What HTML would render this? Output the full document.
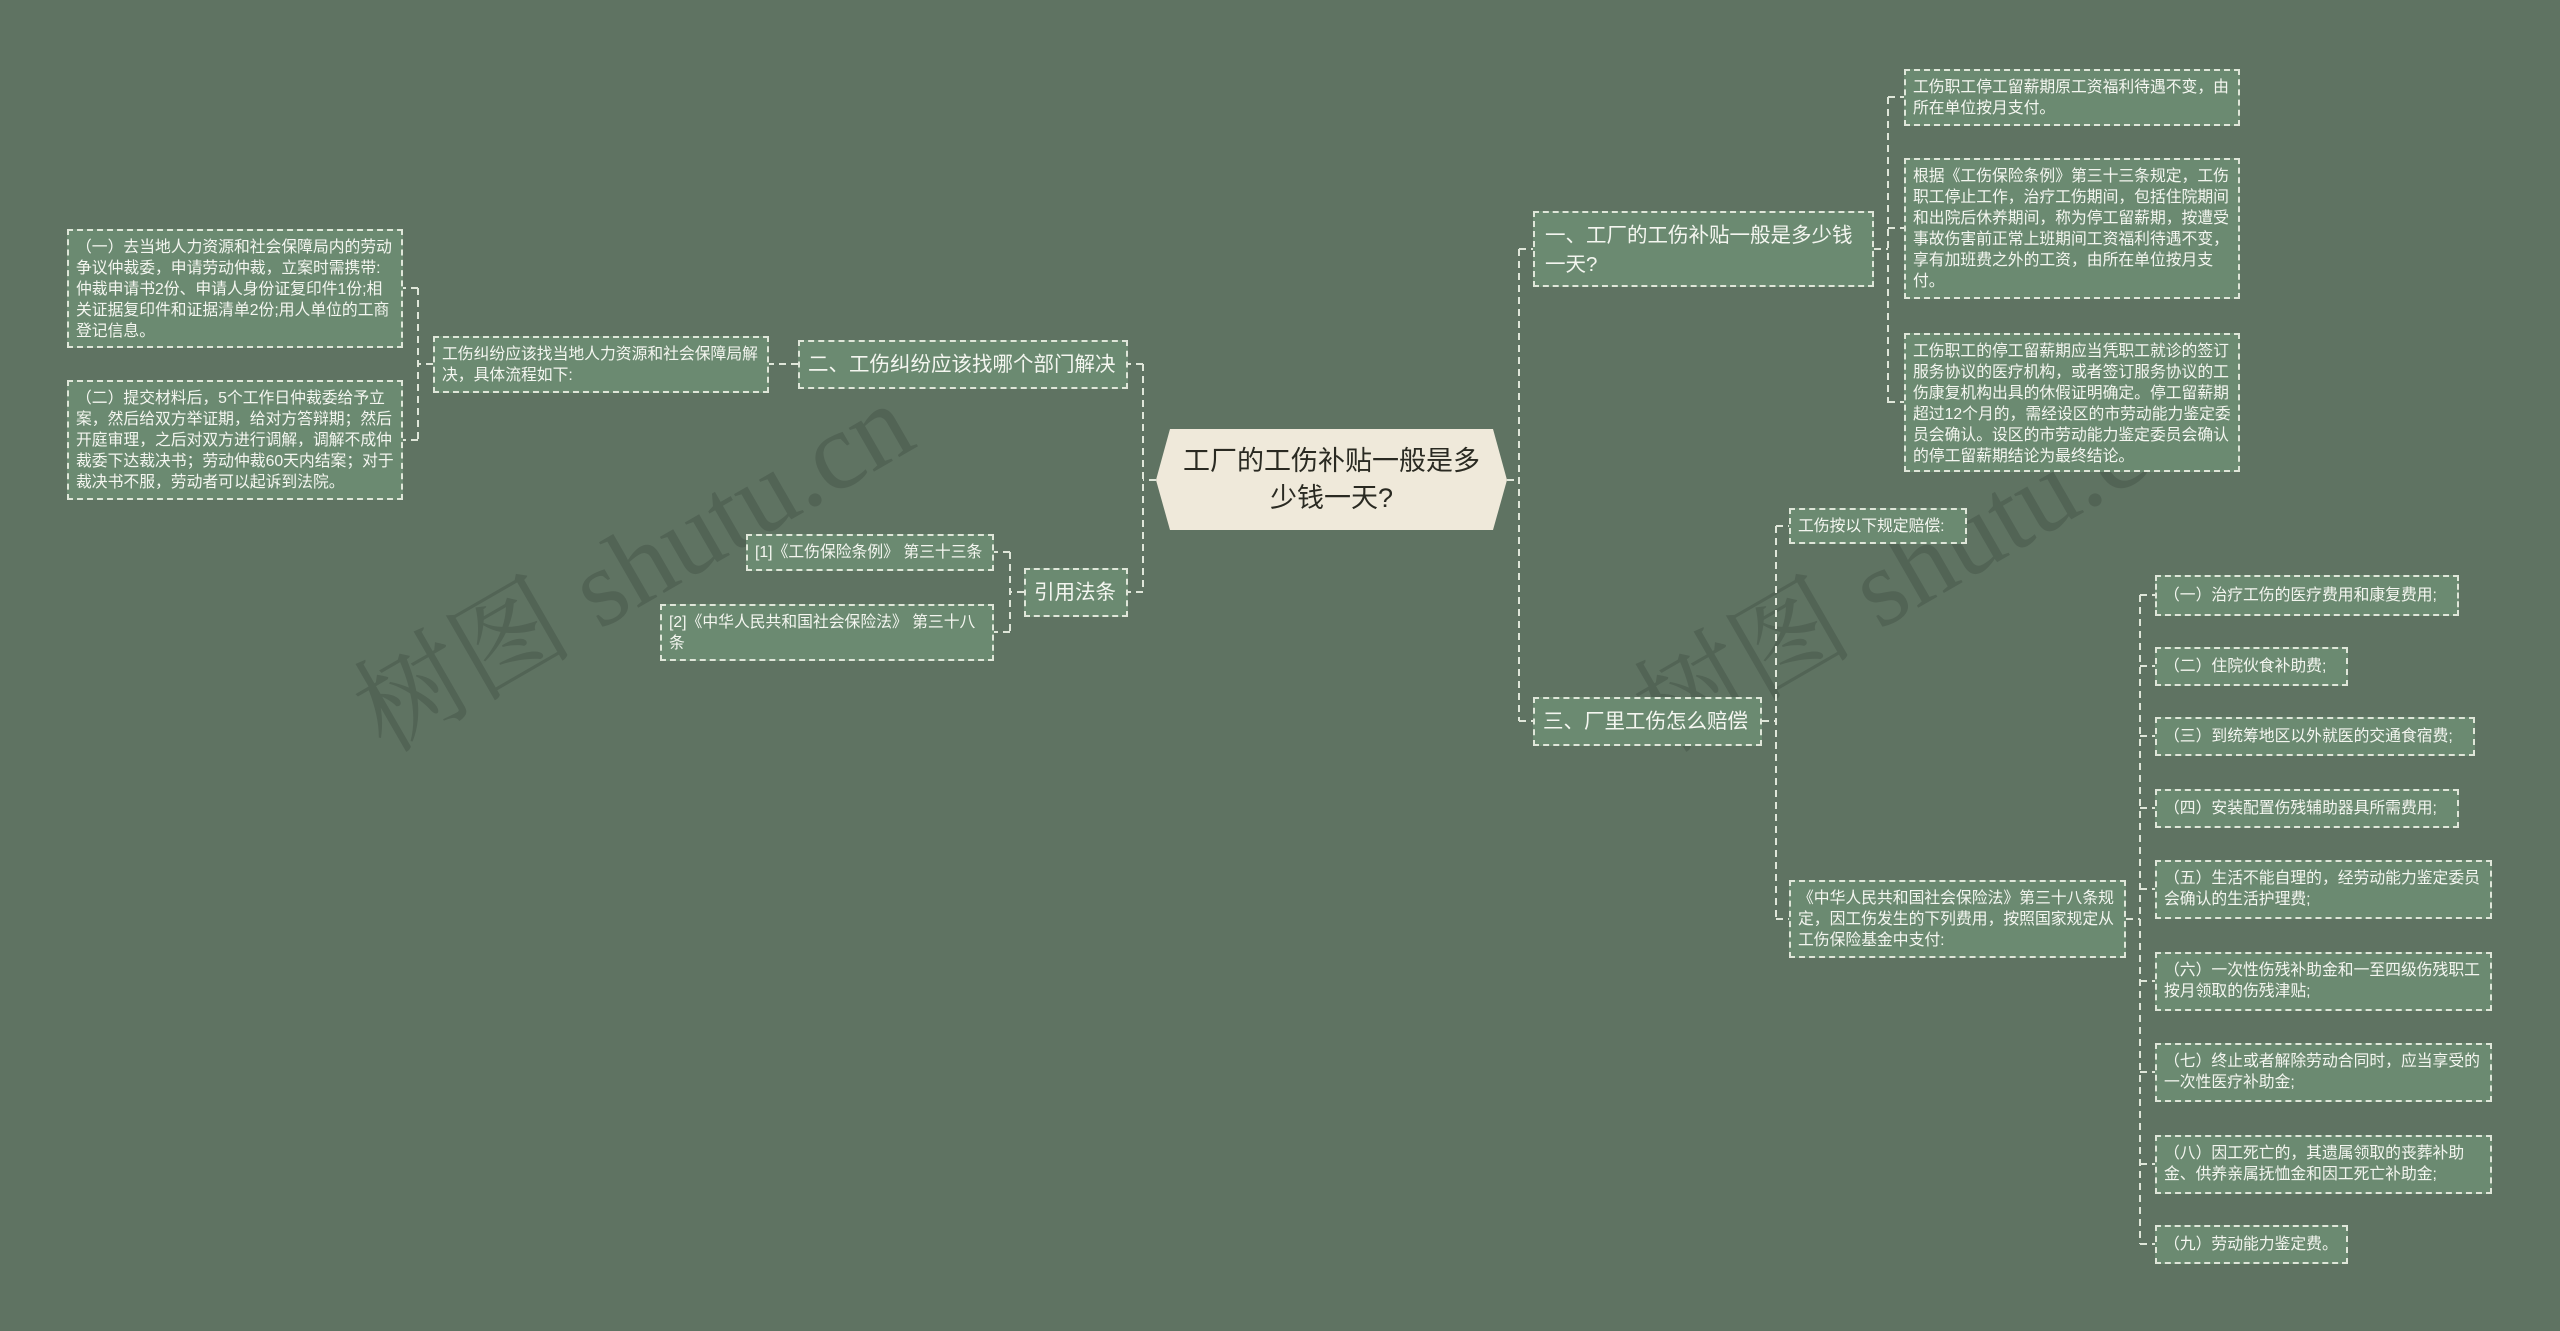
<!DOCTYPE html>
<html><head><meta charset="utf-8"><style>
body{margin:0;width:2560px;height:1331px;background:#5f7362;position:relative;overflow:hidden;font-family:"Liberation Sans","Noto Sans CJK SC",sans-serif;}
.b{position:absolute;box-sizing:border-box;background:#6b8a71;border:2px dashed #dfe6d9;color:#f4f6f0;font-size:15.8px;line-height:21px;padding:6px 7px;}
.br{font-size:20.5px;line-height:29px;padding:0 8px;white-space:nowrap;}
.br2{font-size:20.5px;line-height:29px;padding:8px 10px;}
.one{display:flex;align-items:center;}
.wm{position:absolute;font-family:"Liberation Serif","Noto Serif CJK SC",serif;font-size:110px;color:rgba(60,72,62,0.35);transform:rotate(-30deg);white-space:nowrap;}
</style></head><body>
<div class="wm" style="left:320px;top:480px;">树图 shutu.cn</div>
<div class="wm" style="left:1600px;top:480px;">树图 shutu.cn</div>
<svg width="2560" height="1331" style="position:absolute;left:0;top:0" fill="none" stroke="#dfe6d9" stroke-width="2" stroke-dasharray="7,5">
<path d="M1507 480H1519M1519 249V721M1519 249H1534M1519 721H1534"/>
<path d="M1874 249H1888M1888 97V403M1888 97H1904M1888 228H1904M1888 402H1904"/>
<path d="M1762 721H1776M1776 526V919M1776 526H1789M1776 919H1789"/>
<path d="M2126 919H2140M2140 595V1244M2140 595H2155M2140 666H2155M2140 736H2155M2140 808H2155M2140 889H2155M2140 981H2155M2140 1072H2155M2140 1164H2155M2140 1244H2155"/>
<path d="M1156 480H1143M1143 364V592M1143 364H1128M1143 592H1128"/>
<path d="M798 364H769"/>
<path d="M433 364H418M418 288V440M418 288H403M418 440H403"/>
<path d="M1024 592H1010M1010 552V632M1010 552H994M1010 632H994"/>
</svg>
<svg width="2560" height="1331" style="position:absolute;left:0;top:0">
<polygon points="1170,429 1493,429 1507,480 1493,530 1170,530 1156,480" fill="#efe9da"/>
</svg>
<div style="position:absolute;left:1170px;top:429px;width:323px;height:101px;display:flex;align-items:center;justify-content:center;text-align:center;font-size:27px;line-height:37px;color:#2a2a22;">工厂的工伤补贴一般是多<br>少钱一天?</div>

<div class="b br2" style="left:1533px;top:211px;width:341px;height:76px;">一、工厂的工伤补贴一般是多少钱一天?</div>
<div class="b" style="left:1904px;top:69px;width:336px;height:57px;">工伤职工停工留薪期原工资福利待遇不变，由所在单位按月支付。</div>
<div class="b" style="left:1904px;top:158px;width:336px;height:141px;">根据《工伤保险条例》第三十三条规定，工伤职工停止工作，治疗工伤期间，包括住院期间和出院后休养期间，称为停工留薪期，按遭受事故伤害前正常上班期间工资福利待遇不变，享有加班费之外的工资，由所在单位按月支付。</div>
<div class="b" style="left:1904px;top:333px;width:336px;height:139px;">工伤职工的停工留薪期应当凭职工就诊的签订服务协议的医疗机构，或者签订服务协议的工伤康复机构出具的休假证明确定。停工留薪期超过12个月的，需经设区的市劳动能力鉴定委员会确认。设区的市劳动能力鉴定委员会确认的停工留薪期结论为最终结论。</div>

<div class="b br one" style="left:1533px;top:697px;width:229px;height:49px;">三、厂里工伤怎么赔偿</div>
<div class="b one" style="left:1789px;top:508px;width:178px;height:36px;">工伤按以下规定赔偿:</div>
<div class="b" style="left:1789px;top:880px;width:337px;height:78px;">《中华人民共和国社会保险法》第三十八条规定，因工伤发生的下列费用，按照国家规定从工伤保险基金中支付:</div>
<div class="b one" style="left:2155px;top:575px;width:304px;height:41px;">（一）治疗工伤的医疗费用和康复费用;</div>
<div class="b one" style="left:2155px;top:647px;width:193px;height:39px;">（二）住院伙食补助费;</div>
<div class="b one" style="left:2155px;top:717px;width:320px;height:39px;">（三）到统筹地区以外就医的交通食宿费;</div>
<div class="b one" style="left:2155px;top:789px;width:304px;height:39px;">（四）安装配置伤残辅助器具所需费用;</div>
<div class="b" style="left:2155px;top:860px;width:337px;height:59px;">（五）生活不能自理的，经劳动能力鉴定委员会确认的生活护理费;</div>
<div class="b" style="left:2155px;top:952px;width:337px;height:59px;">（六）一次性伤残补助金和一至四级伤残职工按月领取的伤残津贴;</div>
<div class="b" style="left:2155px;top:1043px;width:337px;height:59px;">（七）终止或者解除劳动合同时，应当享受的一次性医疗补助金;</div>
<div class="b" style="left:2155px;top:1135px;width:337px;height:59px;">（八）因工死亡的，其遗属领取的丧葬补助金、供养亲属抚恤金和因工死亡补助金;</div>
<div class="b one" style="left:2155px;top:1225px;width:193px;height:39px;">（九）劳动能力鉴定费。</div>

<div class="b br one" style="left:798px;top:340px;width:330px;height:49px;">二、工伤纠纷应该找哪个部门解决</div>
<div class="b" style="left:433px;top:336px;width:336px;height:57px;">工伤纠纷应该找当地人力资源和社会保障局解决，具体流程如下:</div>
<div class="b" style="left:67px;top:229px;width:336px;height:119px;">（一）去当地人力资源和社会保障局内的劳动争议仲裁委，申请劳动仲裁，立案时需携带:仲裁申请书2份、申请人身份证复印件1份;相关证据复印件和证据清单2份;用人单位的工商登记信息。</div>
<div class="b" style="left:67px;top:380px;width:336px;height:120px;">（二）提交材料后，5个工作日仲裁委给予立案，然后给双方举证期，给对方答辩期；然后开庭审理，之后对双方进行调解，调解不成仲裁委下达裁决书；劳动仲裁60天内结案；对于裁决书不服，劳动者可以起诉到法院。</div>

<div class="b br one" style="left:1024px;top:568px;width:104px;height:49px;">引用法条</div>
<div class="b one" style="left:746px;top:534px;width:248px;height:37px;">[1]《工伤保险条例》 第三十三条</div>
<div class="b" style="left:660px;top:604px;width:334px;height:57px;">[2]《中华人民共和国社会保险法》 第三十八条</div>
</body></html>
